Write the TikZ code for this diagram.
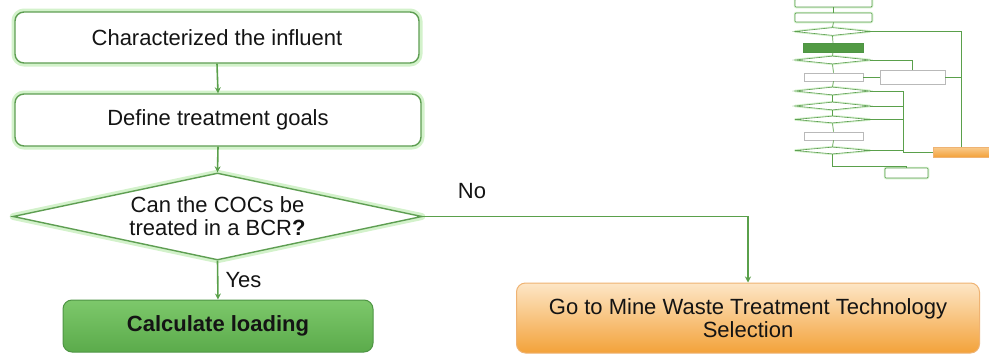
\documentclass[tikz,border=0pt]{standalone}
\usepackage{fontspec}
\setmainfont{Liberation Sans}
\usetikzlibrary{shapes.geometric,arrows.meta}
\definecolor{gline}{HTML}{5AA04B}
\definecolor{gborder}{HTML}{5E9E52}
\definecolor{glow}{HTML}{D3F2CB}
\definecolor{calctop}{HTML}{7DC86B}
\definecolor{calcbot}{HTML}{5BAB4B}
\definecolor{calcborder}{HTML}{4E9544}
\definecolor{ortop}{HTML}{FDE6C6}
\definecolor{orbot}{HTML}{F3A23A}
\definecolor{orborder}{HTML}{EFB373}
\definecolor{txt}{HTML}{141414}
\begin{document}
\begin{tikzpicture}[x=1pt,y=-1pt,
  every node/.style={text=txt},
  bigfont/.style={font=\fontsize{22}{23}\selectfont},
  stepbox/.style={bigfont, draw=gborder, line width=1.4pt, fill=white,
    rounded corners=9pt, inner sep=0pt,
    preaction={draw=glow, line width=7pt, line join=round}},
  decbox/.style={bigfont, shape=diamond, aspect=4.7, draw=gborder, line width=1.4pt, fill=white,
    inner sep=0pt, align=center,
    preaction={draw=glow, line width=7pt, line join=round}},
  calcbox/.style={bigfont, draw=calcborder, line width=1pt, rounded corners=9pt,
    top color=calctop, bottom color=calcbot, inner sep=0pt},
  orbox/.style={bigfont, draw=orborder, line width=1pt, rounded corners=9pt,
    top color=ortop, bottom color=orbot, inner sep=0pt, align=center},
  conn/.style={draw=gline, line width=1.6pt, -{Stealth[length=6pt,width=6pt]}},
  lbl/.style={bigfont},
  tbox/.style={draw=gborder, line width=0.7pt, fill=white, rounded corners=1pt,
    inner sep=0pt, preaction={draw=glow, line width=2.5pt, line join=round}},
  tgbox/.style={draw=gray!55, line width=0.6pt, fill=white, inner sep=0pt},
  tdec/.style={shape=diamond, aspect=9, draw=gborder, line width=0.6pt, fill=white,
    inner sep=0pt, preaction={draw=glow, line width=2.5pt, line join=round}},
  tconn/.style={draw=gline, line width=0.7pt}
]
\useasboundingbox[fill=white] (0,0) rectangle (989,354);

% main flow
\node[stepbox, minimum width=404pt, minimum height=51pt] (b1) at (217,37.5) {Characterized the influent};
\node[stepbox, minimum width=406pt, minimum height=52pt] (b2) at (218,120) {Define treatment goals};
\node[decbox, minimum width=409pt, minimum height=87pt] (d) at (217.5,216.5)
  {Can the COCs be\\treated in a BCR\textbf{?}};
\node[calcbox, minimum width=310pt, minimum height=52pt] (c) at (218,326) {\textbf{Calculate loading}};
\node[orbox, minimum width=463pt, minimum height=70pt] (o) at (748,318)
  {Go to Mine Waste Treatment Technology\\Selection};

\draw[conn] (b1.south) -- (b2.north);
\draw[conn] (b2.south) -- (d.north);
\draw[conn] (d.south) -- (c.north);
\draw[conn] (d.east) -| (o.north);

\node[lbl] (no) at (472,191) {No};
\node[lbl, anchor=west] (yes) at (222,280) {Yes};

% thumbnail of the whole flowchart
\node[tbox, minimum width=77pt, minimum height=8pt] (t1) at (833.5,3) {};
\node[tbox, minimum width=77pt, minimum height=9pt] (t2) at (833.5,17.5) {};
\node[tdec, minimum width=75pt, minimum height=8pt] (td1) at (832.5,31.5) {};
\node[draw=calcborder, fill=calcbot!90!black, line width=0.5pt, inner sep=0pt,
  minimum width=60pt, minimum height=9pt] (tg) at (833,47.5) {};
\node[tdec, minimum width=75pt, minimum height=8pt] (td2) at (832.5,60) {};
\node[tgbox, minimum width=59pt, minimum height=8pt] (te) at (833.5,77) {};
\node[tgbox, minimum width=65pt, minimum height=14pt] (tu) at (912.5,77) {};
\node[tdec, minimum width=75pt, minimum height=8pt] (td3) at (832.5,91) {};
\node[tdec, minimum width=75pt, minimum height=8pt] (td4) at (832.5,106) {};
\node[tdec, minimum width=75pt, minimum height=7pt] (td5) at (832.5,119.5) {};
\node[tgbox, minimum width=59pt, minimum height=8pt] (tf) at (833.5,136) {};
\node[tdec, minimum width=75pt, minimum height=7pt] (td6) at (832.5,150.5) {};
\node[draw=orborder, line width=0.4pt, top color=ortop!60!orbot, bottom color=orbot,
  inner sep=0pt, minimum width=57pt, minimum height=10pt] (tor) at (961.5,152) {};
\node[tbox, minimum width=43pt, minimum height=10pt] (tz) at (906.5,173) {};
\coordinate (tj) at (903,152);

\draw[tconn] (t1.south) -- (t2.north);
\draw[tconn] (t2.south) -- (td1.north);
\draw[tconn] (td1.south) -- (tg.north);
\draw[tconn] (tg.south) -- (td2.north);
\draw[tconn] (td2.south) -- (te.north);
\draw[tconn] (te.south) -- (td3.north);
\draw[tconn] (td3.south) -- (td4.north);
\draw[tconn] (td4.south) -- (td5.north);
\draw[tconn] (td5.south) -- (tf.north);
\draw[tconn] (tf.south) -- (td6.north);
\draw[tconn] (td1.east) -| (tor.north);
\draw[tconn] (td2.east) -| (tu.north);
\draw[tconn] (te.east) -- (tu.west);
\draw[tconn] (tu.east) -- (tu.east -| tor.north);
\draw[tconn] (td3.east) -| (tj);
\draw[tconn] (td4.east) -- (td4.east -| tj);
\draw[tconn] (td5.east) -- (td5.east -| tj);
\draw[tconn] (td6.east) -- (td6.east -| tj);
\draw[tconn] (tj) -- (tor.west);
\draw[tconn] (td6.south) -- ++(0,12) -| (tz.north);
\end{tikzpicture}
\end{document}
